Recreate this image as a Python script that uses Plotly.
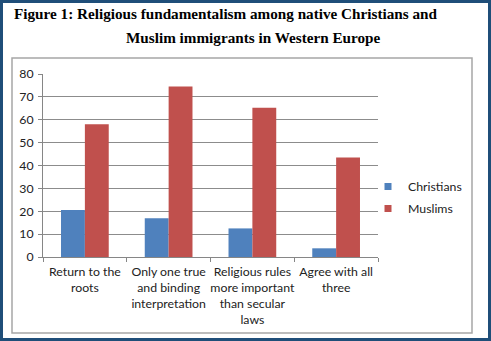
import plotly.graph_objects as go

categories = [
    "Return to the<br>roots",
    "Only one true<br>and binding<br>interpretation",
    "Religious rules<br>more important<br>than secular<br>laws",
    "Agree with all<br>three",
]
christians = [20.5, 16.9, 12.5, 3.8]
muslims = [58.0, 74.5, 65.2, 43.5]
series_names = ["Christians", "Muslims"]
colors = ["#4F81BD", "#C0504D"]
y_ticks = [0, 10, 20, 30, 40, 50, 60, 70, 80]

W, H = 491, 341
L, R, T, B = 43, 378, 74, 257  # plot area in px


def px_x(px):
    return (px - L) / (R - L)


def px_y(py):
    return (B - py) / (B - T)


fig = go.Figure()
for name, vals, col in zip(series_names, [christians, muslims], colors):
    fig.add_trace(go.Bar(x=categories, y=vals, name=name, marker_color=col,
                         marker_line_width=0, showlegend=False))
for i, (name, col) in enumerate(zip(series_names, colors)):
    fig.add_trace(go.Scatter(x=[None], y=[None], mode="markers", name=name,
                             legendgroup=name,
                             marker=dict(symbol="square", size=7, color=col)))

shapes = [
    # outer blue page border
    dict(type="rect", xref="paper", yref="paper",
         x0=px_x(1.5), x1=px_x(W - 1.5), y0=px_y(1.5), y1=px_y(H - 1.5),
         line=dict(color="#1F4E79", width=3), layer="below"),
    # chart area frame
    dict(type="rect", xref="paper", yref="paper",
         x0=px_x(12), x1=px_x(472), y0=px_y(58), y1=px_y(333),
         line=dict(color="#A6A6A6", width=1.5), layer="below"),
]

annotations = [
    dict(text="<b>Figure 1: Religious fundamentalism among native Christians and</b>",
         xref="paper", yref="paper", x=px_x(12), y=px_y(13),
         xanchor="left", yanchor="middle", showarrow=False,
         font=dict(family="Liberation Serif", size=15.2, color="#000")),
    dict(text="<b>Muslim immigrants in Western Europe</b>",
         xref="paper", yref="paper", x=px_x(124), y=px_y(37),
         xanchor="left", yanchor="middle", showarrow=False,
         font=dict(family="Liberation Serif", size=15.2, color="#000")),
]

fig.update_layout(
    width=W, height=H,
    margin=dict(l=L, r=W - R, t=T, b=H - B, pad=0, autoexpand=False),
    paper_bgcolor="white", plot_bgcolor="white",
    barmode="group", bargap=0.43, bargroupgap=0,
    font=dict(family="Lato", size=12, color="#222"),
    shapes=shapes, annotations=annotations,
    legend=dict(x=px_x(368), y=px_y(172), xanchor="left", yanchor="top",
                font=dict(family="Lato", size=12.3, color="#222"),
                bgcolor="rgba(0,0,0,0)", tracegroupgap=3,
                traceorder="grouped"),
    xaxis=dict(showline=True, linecolor="#868686", linewidth=1,
               ticks="outside", tickson="boundaries", ticklen=4,
               tickcolor="#868686", showgrid=False, tickangle=0,
               automargin=False, ticklabelstandoff=3,
               tickfont=dict(family="Lato", size=12.3, color="#222")),
    yaxis=dict(range=[0, 80], tickvals=y_ticks, showline=True,
               linecolor="#868686", linewidth=1, ticks="outside", ticklen=4,
               tickcolor="#868686", showgrid=True, gridcolor="#8C8C8C",
               gridwidth=1, zeroline=False, automargin=False,
               ticklabelstandoff=2,
               tickfont=dict(family="Lato", size=12.3, color="#222")),
)

fig.write_html("out.html")
